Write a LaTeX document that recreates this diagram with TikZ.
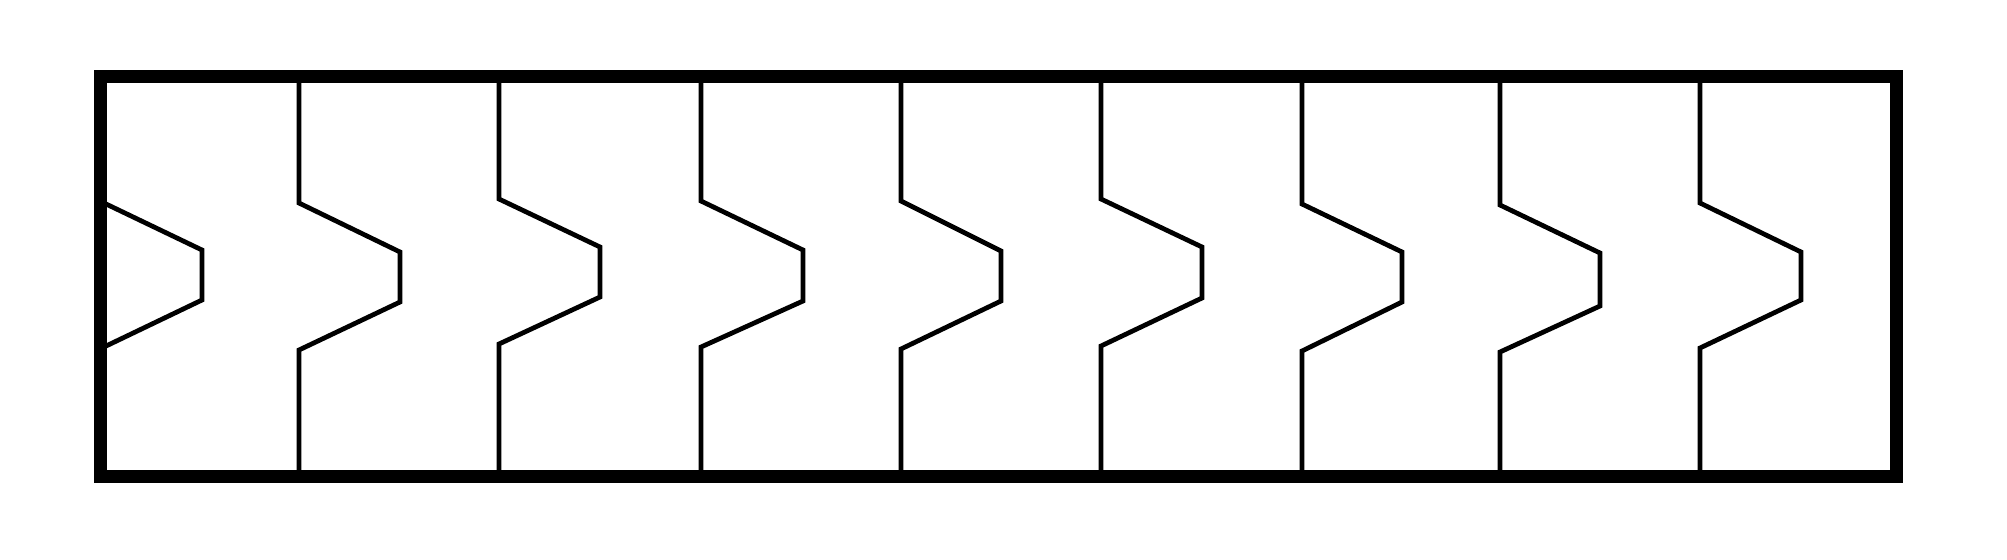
\documentclass[tikz,border=0pt]{standalone}
\begin{document}
\begin{tikzpicture}[x=0.02cm,y=-0.02cm,
  frame/.style={line width=7.4pt,line join=miter},
  divider/.style={line width=2.7pt,line join=miter}]
\useasboundingbox[fill=white] (0,0) rectangle (2007,559);
% outer frame
\draw[frame] (100,76) rectangle (1896,476);
% first divider, attached to the left wall
\draw[divider] (104,203) -- (202,250) -- (202,300) -- (104,347);
% remaining dividers: x, top bend, tip x, tip top, tip bottom, bottom bend
\foreach \x/\a/\t/\b/\c/\d in {
  299/203/400/252/302/350,
  499/199/600/247/297/344,
  701/201/803/250/301/347,
  901/201/1001/251/301/349,
  1101/199/1202/247/298/346,
  1302/204/1402/252/302/351,
  1500/205/1600/253/306/352,
  1700/203/1801/252/300/348}
{
  \draw[divider] (\x,80) -- (\x,\a) -- (\t,\b) -- (\t,\c) -- (\x,\d) -- (\x,472);
}
\end{tikzpicture}
\end{document}
